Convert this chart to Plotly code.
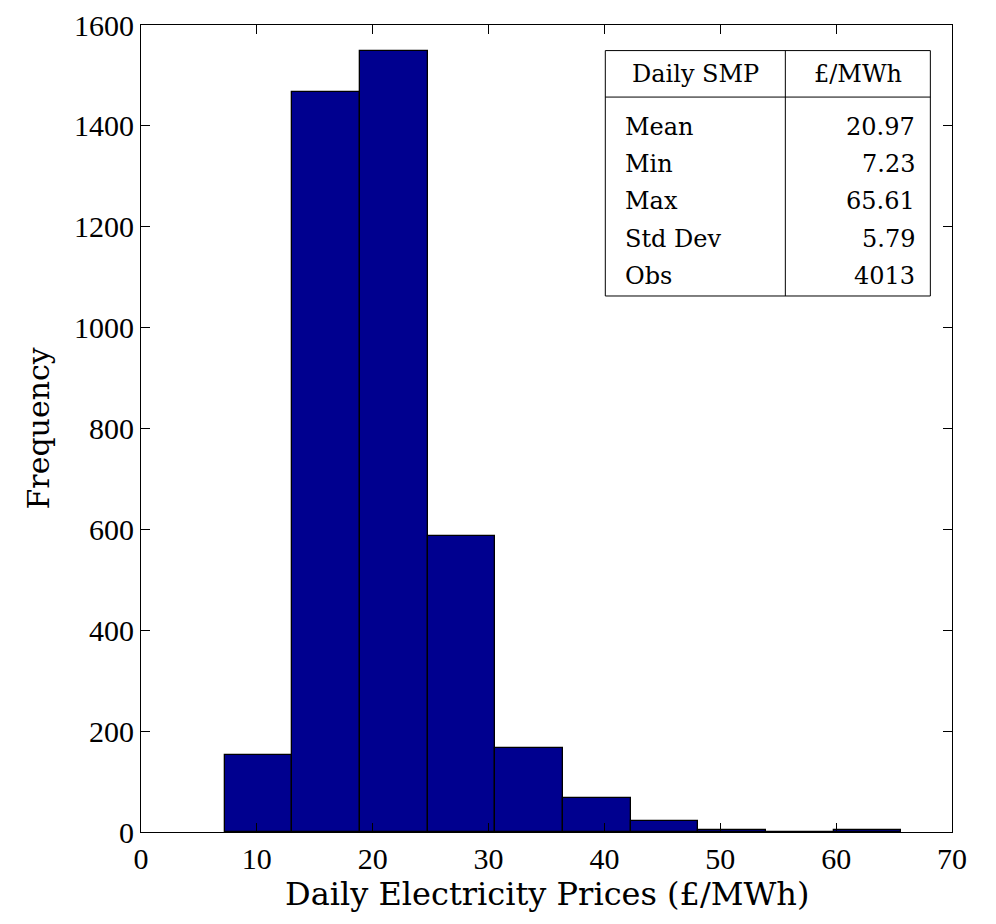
import numpy as np
import plotly.graph_objects as go

# Data
price_min = 7.23
price_max = 65.61
n_bins = 10
counts = [152, 1468, 1549, 586, 166, 67, 21, 4, 1, 3]

stat_labels = ["Mean", "Min", "Max", "Std Dev", "Obs"]
stat_values = ["20.97", "7.23", "65.61", "5.79", "4013"]
table_header = ["Daily SMP", "£/MWh"]

x_ticks = [0, 10, 20, 30, 40, 50, 60, 70]
y_ticks = [0, 200, 400, 600, 800, 1000, 1200, 1400, 1600]

edges = np.linspace(price_min, price_max, n_bins + 1)
centers = (edges[:-1] + edges[1:]) / 2
width = edges[1] - edges[0]

TICKFONT = "Liberation Serif, Times New Roman, serif"
FONT = "DejaVu Serif, serif"

fig = go.Figure()
fig.add_trace(go.Bar(
    x=centers, y=counts, width=[width] * n_bins,
    marker=dict(color="#00008F", line=dict(color="black", width=1.3)),
    showlegend=False, hoverinfo="x+y",
))

fig.update_layout(
    width=996, height=924,
    margin=dict(l=133, r=52, t=17, b=100),
    paper_bgcolor="white", plot_bgcolor="white",
    font=dict(family=FONT, size=29, color="black"),
    bargap=0,
)
fig.update_xaxes(
    range=[0, 70], tickvals=x_ticks, ticks="inside", ticklen=9, tickwidth=1,
    tickcolor="black", showline=True, linecolor="black", linewidth=1.2,
    mirror="ticks", showgrid=False, zeroline=False, automargin=False,
    ticklabeloverflow="allow",
    tickfont=dict(family=TICKFONT, size=30),
)
fig.update_yaxes(
    range=[0, 1600], tickvals=y_ticks, ticks="inside", ticklen=9, tickwidth=1,
    tickcolor="black", showline=True, linecolor="black", linewidth=1.2,
    mirror="ticks", showgrid=False, zeroline=False, automargin=False,
    ticklabeloverflow="allow",
    tickfont=dict(family=TICKFONT, size=30),
)

# Axis titles
fig.add_annotation(xref="paper", yref="paper", x=0.5, y=0, yshift=-62,
                   text="Daily Electricity Prices (£/MWh)", showarrow=False,
                   xanchor="center", yanchor="middle", font=dict(size=32))
fig.add_annotation(xref="paper", yref="paper", x=0, y=0.5, xshift=-103,
                   text="Frequency", showarrow=False, textangle=-90,
                   xanchor="center", yanchor="middle", font=dict(size=30))

# Stats table (inset)
tl, tr, tv = 0.5725, 0.9733, 0.7945
tt, tb, th = 0.9683, 0.6642, 0.9107
line = dict(color="black", width=1)
fig.add_shape(type="rect", xref="x domain", yref="y domain",
              x0=tl, x1=tr, y0=tb, y1=tt, line=line, fillcolor="white", layer="above")
fig.add_shape(type="line", xref="x domain", yref="y domain",
              x0=tl, x1=tr, y0=th, y1=th, line=line, layer="above")
fig.add_shape(type="line", xref="x domain", yref="y domain",
              x0=tv, x1=tv, y0=tb, y1=tt, line=line, layer="above")

TS = 24
fig.add_annotation(xref="x domain", yref="y domain", x=(tl + tv) / 2, y=(tt + th) / 2,
                   text=table_header[0], showarrow=False, xanchor="center", yanchor="middle",
                   font=dict(size=TS))
fig.add_annotation(xref="x domain", yref="y domain", x=(tv + tr) / 2, y=(tt + th) / 2,
                   text=table_header[1], showarrow=False, xanchor="center", yanchor="middle",
                   font=dict(size=TS))
row_top = th - 0.0365
row_step = 0.0463
for i, (lab, val) in enumerate(zip(stat_labels, stat_values)):
    yy = row_top - i * row_step
    fig.add_annotation(xref="x domain", yref="y domain", x=tl + 0.022, y=yy,
                       text=lab, showarrow=False, xanchor="left", yanchor="middle",
                       font=dict(size=TS))
    fig.add_annotation(xref="x domain", yref="y domain", x=tr - 0.016, y=yy,
                       text=val, showarrow=False, xanchor="right", yanchor="middle",
                       font=dict(size=TS))

fig.write_html("out.html")
